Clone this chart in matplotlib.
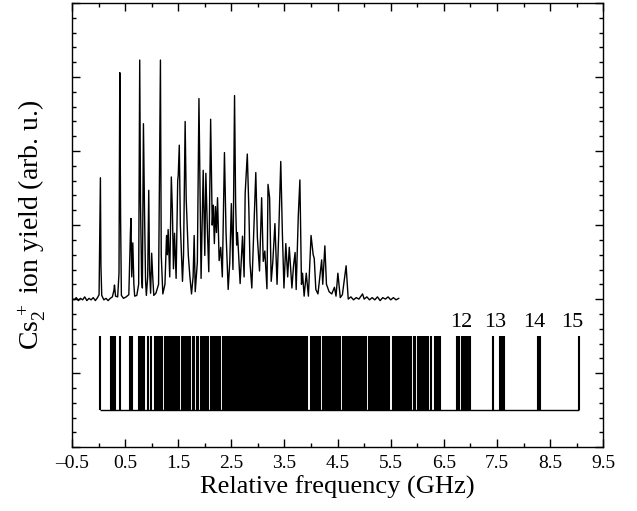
import matplotlib
matplotlib.use('Agg')
import matplotlib.pyplot as plt
from matplotlib.ticker import MultipleLocator

plt.rcParams['font.family'] = ['Liberation Serif', 'DejaVu Serif']
plt.rcParams['mathtext.fontset'] = 'custom'
plt.rcParams['mathtext.rm'] = 'Liberation Serif'
plt.rcParams['mathtext.it'] = 'Liberation Serif:italic'

trace_x = [-0.50, -0.46, -0.42, -0.38, -0.34, -0.30, -0.26, -0.22, -0.18, -0.14,
           -0.10, -0.06, -0.02, 0.01, 0.025, 0.035, 0.045, 0.06, 0.10, 0.14,
           0.18, 0.22, 0.26, 0.29, 0.30, 0.32, 0.36, 0.385, 0.40, 0.415,
           0.43, 0.47, 0.52, 0.57, 0.60, 0.61, 0.625, 0.645, 0.665, 0.68,
           0.72, 0.755, 0.775, 0.79, 0.81, 0.825, 0.845, 0.865, 0.885, 0.90,
           0.925, 0.945, 0.96, 0.98, 1.00, 1.02, 1.04, 1.08, 1.13, 1.165,
           1.18, 1.21, 1.25, 1.28, 1.295, 1.31, 1.34, 1.37, 1.39, 1.41,
           1.43, 1.46, 1.49, 1.50, 1.52, 1.54, 1.58, 1.60, 1.63, 1.65,
           1.69, 1.72, 1.75, 1.78, 1.80, 1.82, 1.86, 1.89, 1.91, 1.93,
           1.97, 2.00, 2.02, 2.05, 2.075, 2.11, 2.14, 2.16, 2.18, 2.20,
           2.22, 2.24, 2.27, 2.30, 2.33, 2.37, 2.40, 2.44, 2.47, 2.50,
           2.53, 2.56, 2.58, 2.60, 2.615, 2.665, 2.71, 2.74, 2.76, 2.80,
           2.83, 2.85, 2.885, 2.94, 2.96, 2.99, 3.03, 3.07, 3.10, 3.13,
           3.17, 3.19, 3.22, 3.25, 3.28, 3.32, 3.36, 3.39, 3.43, 3.46,
           3.49, 3.525, 3.56, 3.59, 3.64, 3.67, 3.70, 3.72, 3.76, 3.79,
           3.82, 3.84, 3.87, 3.91, 3.95, 4.00, 4.04, 4.06, 4.09, 4.13,
           4.20, 4.22, 4.26, 4.29, 4.34, 4.39, 4.44, 4.47, 4.505, 4.55,
           4.59, 4.66, 4.70, 4.75, 4.80, 4.85, 4.90, 4.97, 5.00, 5.05,
           5.10, 5.15, 5.20, 5.25, 5.30, 5.35, 5.40, 5.45, 5.50, 5.55,
           5.60, 5.65]
trace_y = [2.01, 1.99, 2.02, 1.98, 2.01, 1.99, 2.03, 1.98, 2.01, 1.99,
           2.02, 1.98, 2.02, 2.06, 3.00, 3.64, 2.45, 2.05, 1.99, 2.01,
           1.98, 2.01, 2.03, 2.12, 2.19, 2.04, 2.03, 2.35, 5.06, 3.10,
           2.05, 2.01, 2.03, 2.06, 2.90, 3.09, 2.30, 2.76, 2.20, 2.04,
           2.05, 2.20, 5.23, 3.30, 2.30, 2.15, 4.37, 3.20, 2.25, 2.05,
           2.30, 3.47, 2.40, 2.08, 2.62, 2.30, 2.05, 2.08, 2.20, 5.23,
           2.60, 2.07, 2.20, 2.86, 2.60, 2.94, 2.30, 3.65, 3.20, 2.41,
           2.89, 2.28, 3.60, 3.67, 4.08, 3.00, 2.24, 2.60, 4.40, 3.35,
           2.59, 2.30, 2.07, 2.30, 2.86, 2.10, 2.50, 4.71, 3.50, 2.28,
           3.74, 2.59, 3.70, 2.90, 2.37, 4.43, 3.00, 3.27, 2.75, 3.25,
           2.90, 3.37, 2.52, 2.70, 2.30, 3.98, 2.90, 2.13, 2.50, 3.29,
           2.40, 4.75, 3.30, 2.73, 2.90, 2.21, 2.85, 2.30, 3.43, 3.96,
           3.20, 2.50, 2.15, 3.29, 3.71, 2.83, 2.38, 3.37, 2.51, 2.65,
           2.14, 3.55, 3.37, 2.24, 2.50, 3.02, 2.20, 2.85, 3.86, 2.90,
           2.15, 2.75, 2.30, 2.70, 2.15, 2.45, 2.63, 2.13, 3.13, 3.61,
           2.20, 2.35, 2.04, 2.35, 2.04, 2.86, 2.60, 2.55, 2.13, 2.07,
           2.53, 2.20, 2.72, 2.20, 2.10, 2.07, 2.16, 2.04, 2.35, 2.02,
           2.06, 2.45, 2.00, 2.03, 1.99, 2.02, 2.00, 2.07, 2.00, 2.03,
           1.99, 2.02, 1.99, 2.03, 1.98, 2.02, 2.00, 2.03, 1.99, 2.02,
           1.99, 2.01]

# calculated line positions (GHz)
stick_pos = [0.02, 0.235, 0.27, 0.31, 0.405, 0.60, 0.63, 0.77, 0.79, 0.84,
             0.865, 0.94, 0.99, 1.06, 1.08, 1.10, 1.13, 1.16, 1.19, 1.25,
             1.28, 1.33, 1.36, 1.38, 1.40, 1.43, 1.47, 1.50, 1.52,
             1.57, 1.59, 1.62, 1.64, 1.69, 1.71, 1.73,
             1.78, 1.80, 1.85, 1.87, 1.92, 1.94, 1.96,
             2.01, 2.04, 2.065, 2.115, 2.14, 2.165, 2.19, 2.215, 2.24, 2.265,
             2.29, 2.34, 2.365, 2.39, 2.43, 2.455, 2.48, 2.505, 2.53, 2.555,
             2.58, 2.605, 2.63, 2.655, 2.68, 2.705, 2.73, 2.755, 2.78, 2.805,
             2.83, 2.855, 2.88, 2.905, 2.93, 2.955, 2.98, 3.005, 3.03, 3.055,
             3.08, 3.105, 3.13, 3.155, 3.18, 3.205, 3.23, 3.255, 3.28, 3.305,
             3.33, 3.355, 3.38, 3.405, 3.43, 3.455, 3.48, 3.505, 3.53, 3.555,
             3.58, 3.605, 3.63, 3.655, 3.68, 3.705, 3.73, 3.755, 3.78, 3.805,
             3.83, 3.855, 3.88, 3.905, 3.93, 3.99, 4.015, 4.04, 4.065, 4.09,
             4.115, 4.14, 4.165, 4.225, 4.25, 4.275, 4.30, 4.325, 4.35, 4.375,
             4.40, 4.425, 4.475, 4.50, 4.525, 4.55, 4.61, 4.635, 4.66, 4.685,
             4.71, 4.735, 4.76, 4.785, 4.81, 4.835, 4.86, 4.89, 4.915, 4.94,
             4.965, 4.99, 5.015, 5.04, 5.10, 5.125, 5.15, 5.175, 5.20, 5.225,
             5.26, 5.285, 5.31, 5.36, 5.385, 5.41, 5.45, 5.475, 5.545, 5.57,
             5.60, 5.63, 5.66, 5.69, 5.72, 5.75, 5.78, 5.83, 5.86, 5.89,
             5.93, 5.96, 6.02, 6.05, 6.08, 6.12, 6.15, 6.18, 6.21, 6.25,
             6.34, 6.37, 6.40, 6.43, 6.75, 6.78, 6.84, 6.87, 6.90, 6.93,
             6.96, 6.99, 7.43, 7.55, 7.58, 7.61, 7.64, 8.27, 8.31, 9.05]
stick_low = 0.5
stick_high = 1.5

band_labels = ['12', '13', '14', '15']
band_label_x = [6.83, 7.47, 8.20, 8.91]

xticks = [-0.5, 0.5, 1.5, 2.5, 3.5, 4.5, 5.5, 6.5, 7.5, 8.5, 9.5]
xtick_labels = ['\u20130.5', '0.5', '1.5', '2.5', '3.5', '4.5', '5.5',
                '6.5', '7.5', '8.5', '9.5']

fig = plt.figure(figsize=(6.37, 5.11), dpi=100)
ax = fig.add_axes([0.113, 0.125, 0.834, 0.869])

ax.plot(trace_x, trace_y, color='k', lw=1.0)
ax.vlines(stick_pos, stick_low, stick_high, color='k', lw=1.5)
ax.hlines(stick_low, min(stick_pos), max(stick_pos), color='k', lw=1.0)
for lab, xl in zip(band_labels, band_label_x):
    ax.text(xl, 1.55, lab, ha='center', va='bottom', fontsize=16)

ax.set_xlim(-0.5, 9.5)
ax.set_ylim(0, 6)
ax.set_xticks(xticks)
ax.set_xticklabels(xtick_labels, fontsize=14)
ax.xaxis.set_minor_locator(MultipleLocator(0.5))
ax.yaxis.set_major_locator(MultipleLocator(1))
ax.yaxis.set_minor_locator(MultipleLocator(0.2))
ax.set_yticklabels([])
ax.tick_params(which='both', direction='in', top=True, right=True, width=1)
ax.tick_params(which='major', length=6)
ax.tick_params(which='minor', length=3)
ax.tick_params(axis='x', pad=6)
for s in ax.spines.values():
    s.set_linewidth(1.0)

ax.set_xlabel('Relative frequency (GHz)', fontsize=19, labelpad=2)
ax.set_ylabel(r'Cs$_2^{\,+}$ ion yield (arb. u.)', fontsize=20, labelpad=14)

fig.savefig('out.png', dpi=100)
